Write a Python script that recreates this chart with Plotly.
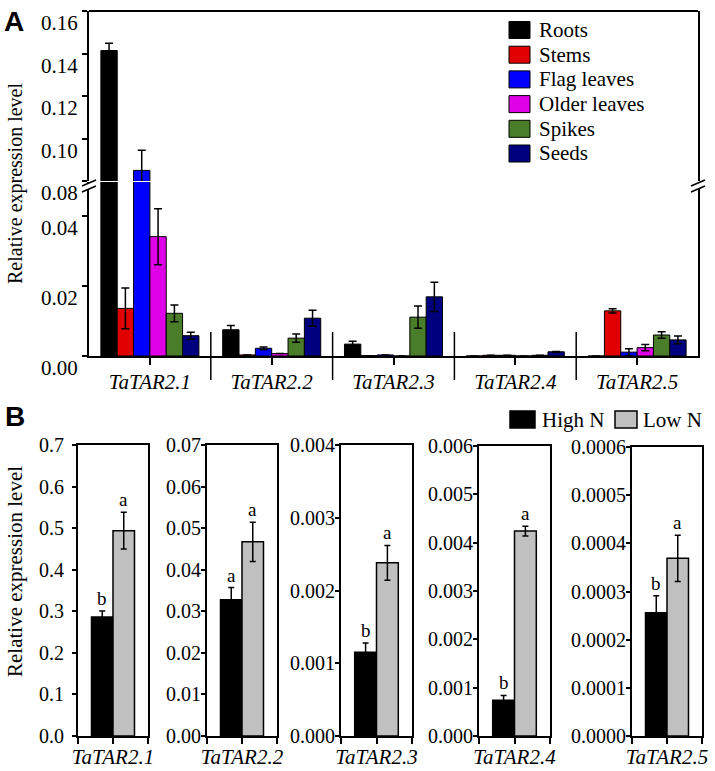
import plotly.graph_objects as go

# Figure fills the whole 715x771 window (the page's default body margin is removed below).
OFF = 0
W, H = 715 - OFF, 771 - OFF

# ---------------- Data: panel A ----------------
genes = ["TaTAR2.1", "TaTAR2.2", "TaTAR2.3", "TaTAR2.4", "TaTAR2.5"]
tissues = ["Roots", "Stems", "Flag leaves", "Older leaves", "Spikes", "Seeds"]
tissue_colors = ["#000000", "#e00000", "#0000ff", "#e000e8", "#4a7d2a", "#00007f"]

roots = [0.1414, 0.0075, 0.0034, 0.0000, 0.0000]
roots_err = [0.0034, 0.0012, 0.0008, 0.0, 0.0]
stems = [0.0136, 0.0003, 0.0001, 0.0002, 0.0129]
stems_err = [0.0058, 0.0, 0.0, 0.0, 0.0006]
flag_leaves = [0.0850, 0.0022, 0.0003, 0.0002, 0.0011]
flag_leaves_err = [0.0095, 0.0004, 0.0, 0.0, 0.0010]
older_leaves = [0.0341, 0.0007, 0.0000, 0.0000, 0.0024]
older_leaves_err = [0.0080, 0.0, 0.0, 0.0, 0.0009]
spikes = [0.0122, 0.0051, 0.0111, 0.0002, 0.0060]
spikes_err = [0.0024, 0.0012, 0.0032, 0.0, 0.0009]
seeds = [0.0058, 0.0108, 0.0169, 0.0012, 0.0046]
seeds_err = [0.0010, 0.0023, 0.0042, 0.0001, 0.0011]

a_vals = [roots, stems, flag_leaves, older_leaves, spikes, seeds]
a_errs = [roots_err, stems_err, flag_leaves_err, older_leaves_err, spikes_err, seeds_err]

a_lower_ticks = ["0.00", "0.02", "0.04"]
a_upper_ticks = ["0.08", "0.10", "0.12", "0.14", "0.16"]

# ---------------- Data: panel B ----------------
conditions = ["High N", "Low N"]
cond_colors = ["#000000", "#c0c0c0"]
b_high = [0.286, 0.0328, 0.00115, 0.00074, 0.000256]
b_high_err = [0.0144, 0.0029, 0.00013, 0.00010, 0.000035]
b_low = [0.494, 0.0467, 0.00238, 0.00424, 0.000369]
b_low_err = [0.044, 0.0047, 0.00024, 0.00010, 0.000048]
b_high_letters = ["b", "a", "b", "b", "b"]
b_low_letters = ["a", "a", "a", "a", "a"]
b_tick_labels = [
    ["0.0", "0.1", "0.2", "0.3", "0.4", "0.5", "0.6", "0.7"],
    ["0.00", "0.01", "0.02", "0.03", "0.04", "0.05", "0.06", "0.07"],
    ["0.000", "0.001", "0.002", "0.003", "0.004"],
    ["0.000", "0.001", "0.002", "0.003", "0.004", "0.005", "0.006"],
    ["0.0000", "0.0001", "0.0002", "0.0003", "0.0004", "0.0005", "0.0006"],
]

# ---------------- Layout helpers (window pixel -> paper) ----------------
def xp(px):
    return (px - OFF) / W

def yp(py):
    return 1 - (py - OFF) / H

SERIF = "Liberation Serif, Tinos, Times New Roman, DejaVu Serif, serif"
SANS = "Liberation Sans, Arimo, Arial, DejaVu Sans, sans-serif"

fig = go.Figure()

# Panel A bars: lower (y) and upper (y2) segments of the broken axis
for i, t in enumerate(tissues):
    for xa, ya in (("x", "y"), ("x2", "y2")):
        fig.add_trace(go.Bar(
            x=genes, y=a_vals[i], name=t,
            marker=dict(color=tissue_colors[i], line=dict(color="#000000", width=1)),
            error_y=dict(type="data", array=a_errs[i], color="#000000", thickness=1.5, width=4),
            xaxis=xa, yaxis=ya, showlegend=False,
        ))

# Panel B bars
bw = 0.307
b_vals = [b_high, b_low]
b_errs = [b_high_err, b_low_err]
b_letters = [b_high_letters, b_low_letters]
b_offsets = [-bw, 0.0]
for j, g in enumerate(genes):
    k = j + 3
    for c in range(2):
        fig.add_trace(go.Bar(
            x=[g], y=[b_vals[c][j]], name=conditions[c],
            offset=b_offsets[c], width=bw,
            marker=dict(color=cond_colors[c], line=dict(color="#000000", width=1.5)),
            error_y=dict(type="data", array=[b_errs[c][j]], color="#000000", thickness=1.5, width=3),
            xaxis=f"x{k}", yaxis=f"y{k}", showlegend=False,
        ))

axis_common = dict(showline=True, linecolor="#000000", linewidth=2, showgrid=False,
                   zeroline=False, ticks="outside", tickcolor="#000000", tickwidth=1.5,
                   automargin=False)

layout = dict(
    width=W, height=H,
    margin=dict(l=0, r=0, t=0, b=0, pad=0, autoexpand=False),
    paper_bgcolor="white", plot_bgcolor="white",
    font=dict(family=SERIF, color="#000000", size=20),
    barmode="group", bargap=0.195, bargroupgap=0,
    showlegend=False,
)

# Panel A axes
a_x0, a_x1 = 89, 698
layout["xaxis"] = dict(axis_common, domain=[xp(a_x0), xp(a_x1)], anchor="y", type="category",
                       range=[-0.5, len(genes) - 0.5], ticklen=7,
                       tickfont=dict(family=SERIF, size=21, style="italic"),
                       ticklabelstandoff=-1)
layout["xaxis2"] = dict(domain=[xp(a_x0), xp(a_x1)], anchor="y2", type="category",
                        range=[-0.5, len(genes) - 0.5], matches="x", visible=False,
                        automargin=False)
low_vals = [float(s) for s in a_lower_ticks]
up_vals = [float(s) for s in a_upper_ticks]
layout["yaxis"] = dict(axis_common, domain=[yp(356), yp(182)], anchor="x",
                       range=[0, (356 - 182) / 3500], mirror=True,
                       tickmode="array", tickvals=low_vals, ticktext=a_lower_ticks,
                       ticklen=5, ticklabelshift=12, tickfont=dict(family=SERIF, size=21))
layout["yaxis2"] = dict(axis_common, domain=[yp(181), yp(11)], anchor="x2",
                        range=[up_vals[0], up_vals[-1]], mirror=True,
                        tickmode="array", tickvals=up_vals, ticktext=a_upper_ticks,
                        ticklen=5, ticklabelshift=12, tickfont=dict(family=SERIF, size=21))

# Panel B axes
b_xdom = [(78, 148), (207, 277), (341, 412), (479, 550), (632, 702)]
b_ytop = [445, 445, 445, 446, 447]
b_standoff = [4, -4, -4, -4, -4]
for j, g in enumerate(genes):
    k = j + 3
    tv = [float(s) for s in b_tick_labels[j]]
    layout[f"xaxis{k}"] = dict(axis_common, domain=[xp(b_xdom[j][0]), xp(b_xdom[j][1])],
                               anchor=f"y{k}", type="category", range=[-0.5, 0.5], mirror=True,
                               tickmode="array", tickvals=[-0.5, 0, 0.5], ticktext=["", g, ""],
                               ticklen=6, ticklabelstandoff=-5,
                               tickfont=dict(family=SERIF, size=21, style="italic"))
    layout[f"yaxis{k}"] = dict(axis_common, domain=[yp(736), yp(b_ytop[j])], anchor=f"x{k}",
                               range=[0, tv[-1]], mirror=True,
                               tickmode="array", tickvals=tv, ticktext=b_tick_labels[j],
                               ticklen=4, ticklabelstandoff=b_standoff[j],
                               tickfont=dict(family=SERIF, size=20))

shapes = []
annotations = []

# top border of panel A
shapes.append(dict(type="line", xref="x domain", yref="y2 domain", x0=0, x1=1, y0=1, y1=1,
                   line=dict(color="#000000", width=2)))
# group separators in panel A
for b in range(len(genes) - 1):
    shapes.append(dict(type="line", xref="x", yref="paper", x0=b + 0.5, x1=b + 0.5,
                       y0=yp(332), y1=yp(380), line=dict(color="#000000", width=1.5)))
# axis break marks (left and right)
for cx in (a_x0, a_x1):
    shapes.append(dict(type="rect", xref="paper", yref="paper", x0=xp(cx - 6), x1=xp(cx + 6),
                       y0=yp(189), y1=yp(183), fillcolor="white", line=dict(width=0), layer="above"))
    shapes.append(dict(type="line", xref="paper", yref="paper", x0=xp(cx - 7), x1=xp(cx + 7),
                       y0=yp(186), y1=yp(180), line=dict(color="#000000", width=1.5), layer="above"))
    shapes.append(dict(type="line", xref="paper", yref="paper", x0=xp(cx - 7), x1=xp(cx + 7),
                       y0=yp(192), y1=yp(186), line=dict(color="#000000", width=1.5), layer="above"))

# Legend panel A
for i, t in enumerate(tissues):
    cy = 30 + i * 24.7
    shapes.append(dict(type="rect", xref="paper", yref="paper", x0=xp(509), x1=xp(530),
                       y0=yp(cy + 8.5), y1=yp(cy - 8.5), fillcolor=tissue_colors[i],
                       line=dict(color="#000000", width=1)))
    annotations.append(dict(text=t, xref="paper", yref="paper", x=xp(537), y=yp(cy),
                            xanchor="left", yanchor="middle", showarrow=False,
                            font=dict(family=SERIF, size=21)))

# Legend panel B
b_leg = [(510, 535, 540), (615, 637, 641)]
for c in range(2):
    sx0, sx1, tx = b_leg[c]
    shapes.append(dict(type="rect", xref="paper", yref="paper", x0=xp(sx0), x1=xp(sx1),
                       y0=yp(428), y1=yp(411), fillcolor=cond_colors[c],
                       line=dict(color="#000000", width=1.5)))
    annotations.append(dict(text=conditions[c], xref="paper", yref="paper", x=xp(tx), y=yp(420),
                            xanchor="left", yanchor="middle", showarrow=False,
                            font=dict(family=SERIF, size=21)))

# significance letters
for j in range(len(genes)):
    k = j + 3
    for c in range(2):
        annotations.append(dict(text=b_letters[c][j], xref=f"x{k}", yref=f"y{k}",
                                x=b_offsets[c] + bw / 2, y=b_vals[c][j] + b_errs[c][j],
                                xanchor="center", yanchor="bottom", showarrow=False,
                                font=dict(family=SERIF, size=19)))

# axis titles and panel letters
annotations.append(dict(text="Relative expression level", xref="paper", yref="paper",
                        x=xp(15), y=yp(184), textangle=-90, showarrow=False,
                        xanchor="center", yanchor="middle", font=dict(family=SERIF, size=20)))
annotations.append(dict(text="Relative expression level", xref="paper", yref="paper",
                        x=xp(15), y=yp(572), textangle=-90, showarrow=False,
                        xanchor="center", yanchor="middle", font=dict(family=SERIF, size=21)))
annotations.append(dict(text="<b>A</b>", xref="paper", yref="paper", x=xp(14), y=yp(21),
                        showarrow=False, xanchor="center", yanchor="middle",
                        font=dict(family=SANS, size=28)))
annotations.append(dict(text="<b>B</b>", xref="paper", yref="paper", x=xp(15), y=yp(416),
                        showarrow=False, xanchor="center", yanchor="middle",
                        font=dict(family=SANS, size=28)))

layout["shapes"] = shapes
layout["annotations"] = annotations
fig.update_layout(**layout)

fig.write_html("out.html",
               config={"displayModeBar": False},
               post_script="document.body.style.margin='0px';document.body.style.overflow='hidden';")
